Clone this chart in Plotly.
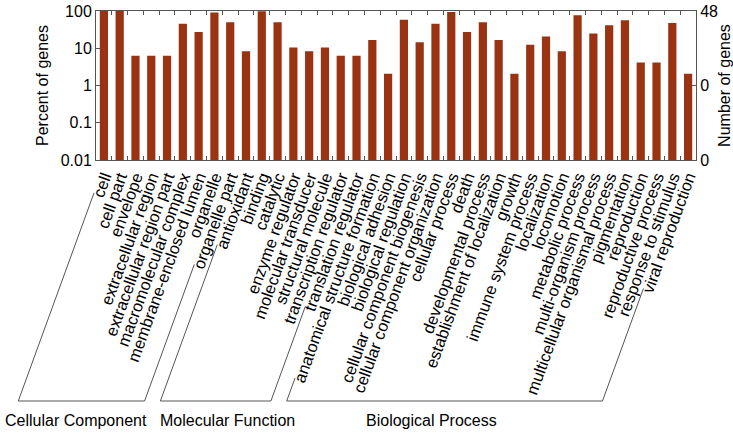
import plotly.graph_objects as go
import math

categories = [
    "cell", "cell part", "envelope", "extracellular region", "extracellular region part",
    "macromolecular complex", "membrane-enclosed lumen", "organelle", "organelle part",
    "antioxidant", "binding", "catalytic", "enzyme regulator", "molecular transducer",
    "structural molecule", "transcription regulator", "translation regulator",
    "anatomical structure formation", "biological adhesion", "biological regulation",
    "cellular component biogenesis", "cellular component organization", "cellular process",
    "death", "developmental process", "establishment of localization", "growth",
    "immune system process", "localization", "locomotion", "metabolic process",
    "multi-organism process", "multicellular organismal process", "pigmentation",
    "reproduction", "reproductive process", "response to stimulus", "viral reproduction",
]
percent = [
    100, 100, 6.25, 6.25, 6.25, 45.8, 27.1, 91.7, 50.0,
    8.33, 97.9, 50.0, 10.4, 8.33, 10.4, 6.25, 6.25,
    16.7, 2.08, 58.3, 14.6, 45.8, 93.75, 27.1, 50.0, 16.7, 2.08,
    12.5, 20.8, 8.33, 77.1, 25.0, 41.7, 56.25, 4.17, 4.17, 47.9, 2.08,
]
groups = [("Cellular Component", 0, 8), ("Molecular Function", 9, 16), ("Biological Process", 17, 37)]
total_genes = 48
left_ticks = [0.01, 0.1, 1, 10, 100]
left_ticktext = ["0.01", "0.1", "1", "10", "100"]
right_ticks = [total_genes * 1e-4, total_genes * 1e-2, total_genes]
right_ticktext = ["0", "0", "48"]

W, H = 733, 435
X0, X1, Y0, Y1 = 96, 696, 11, 160
FONT = "Arial, Liberation Sans, Helvetica, sans-serif"
LABEL_SIZE = 16.5
ANG = 70.0

# approximate Arial advance widths (per 1000 em)
AW = {'a': 556, 'b': 556, 'c': 500, 'd': 556, 'e': 556, 'f': 278, 'g': 556, 'h': 556, 'i': 222,
      'j': 222, 'k': 500, 'l': 222, 'm': 833, 'n': 556, 'o': 556, 'p': 556, 'q': 556, 'r': 333,
      's': 500, 't': 278, 'u': 556, 'v': 500, 'w': 722, 'x': 500, 'y': 500, 'z': 500, ' ': 278, '-': 333}


def text_w(s, size):
    return sum(AW.get(c, 556) for c in s) * size / 1000.0


n = len(categories)
step = (X1 - X0) / n


def px_to_paper(x, y):
    return (x - X0) / (X1 - X0), (Y1 - y) / (Y1 - Y0)


fig = go.Figure()
fig.add_trace(go.Bar(x=categories, y=percent, marker_color="#993311",
                     marker_line_width=0, width=0.52, yaxis="y"))

shapes = []
annotations = []
ux, uy = -math.cos(math.radians(ANG)), math.sin(math.radians(ANG))
ANCH_Y = 163
BOT_Y = 401
title_x = {"Cellular Component": 76, "Molecular Function": 227, "Biological Process": 431}
for name, a, b in groups:
    pts = []
    for idx in (a, b):
        xc = X0 + (idx + 0.5) * step + 1
        L = text_w(categories[idx], LABEL_SIZE) + 7
        sx, sy = xc + L * ux, ANCH_Y + L * uy
        t = (BOT_Y - ANCH_Y) / uy
        bx, by = xc + t * ux, BOT_Y
        pts.append(((sx, sy), (bx, by)))
    (s1, b1), (s2, b2) = pts
    path_pts = [s1, b1, b2, s2]
    pp = [px_to_paper(*p) for p in path_pts]
    path = "M {} {} L {} {} L {} {} L {} {}".format(*[v for p in pp for v in p])
    shapes.append(dict(type="path", path=path, xref="paper", yref="paper",
                       line=dict(color="#555555", width=1)))
    px, py = px_to_paper(title_x[name], 421)
    annotations.append(dict(text=name, x=px, y=py, xref="paper", yref="paper",
                            showarrow=False, xanchor="center", yanchor="middle",
                            font=dict(size=16, color="black", family=FONT)))

fig.update_layout(
    width=W, height=H,
    margin=dict(l=X0, r=W - X1, t=Y0, b=H - Y1, autoexpand=False),
    paper_bgcolor="white", plot_bgcolor="white",
    showlegend=False,
    font=dict(family=FONT, color="black"),
    bargap=0.5,
    xaxis=dict(type="category", tickangle=-ANG, tickson="boundaries", ticks="inside",
               tickmode="array", tickvals=categories, ticktext=categories,
               ticklen=4, tickcolor="#555555", showline=True, linecolor="#555555",
               mirror="ticks", showgrid=False, automargin=False,
               tickfont=dict(size=LABEL_SIZE, family=FONT, color="black"),
               range=[-0.5, n - 0.5]),
    yaxis=dict(type="log", range=[-2, 2], tickvals=left_ticks, ticktext=left_ticktext,
               ticks="inside", ticklen=4, tickcolor="#555555", showline=True,
               linecolor="#555555", showgrid=False, zeroline=False, automargin=False,
               tickfont=dict(size=16, family=FONT, color="black"),
               title=dict(text="Percent of genes", font=dict(size=16, family=FONT), standoff=8)),
    yaxis2=dict(type="log", overlaying="y", side="right",
                range=[math.log10(total_genes * 1e-4), math.log10(total_genes)],
                tickvals=right_ticks, ticktext=right_ticktext, ticks="inside", ticklen=4,
                tickcolor="#555555", showline=True, linecolor="#555555", showgrid=False,
                automargin=False, tickfont=dict(size=16, family=FONT, color="black"),
                title=dict(text="Number of genes", font=dict(size=16, family=FONT), standoff=2)),
    shapes=shapes,
    annotations=annotations,
)
# invisible trace to activate the right axis
fig.add_trace(go.Scatter(x=[categories[0]], y=[total_genes], yaxis="y2", mode="markers",
                         marker=dict(opacity=0), hoverinfo="skip"))

fig.write_html("out.html", config={"displayModeBar": False},
               post_script="document.body.style.margin='0px';")
